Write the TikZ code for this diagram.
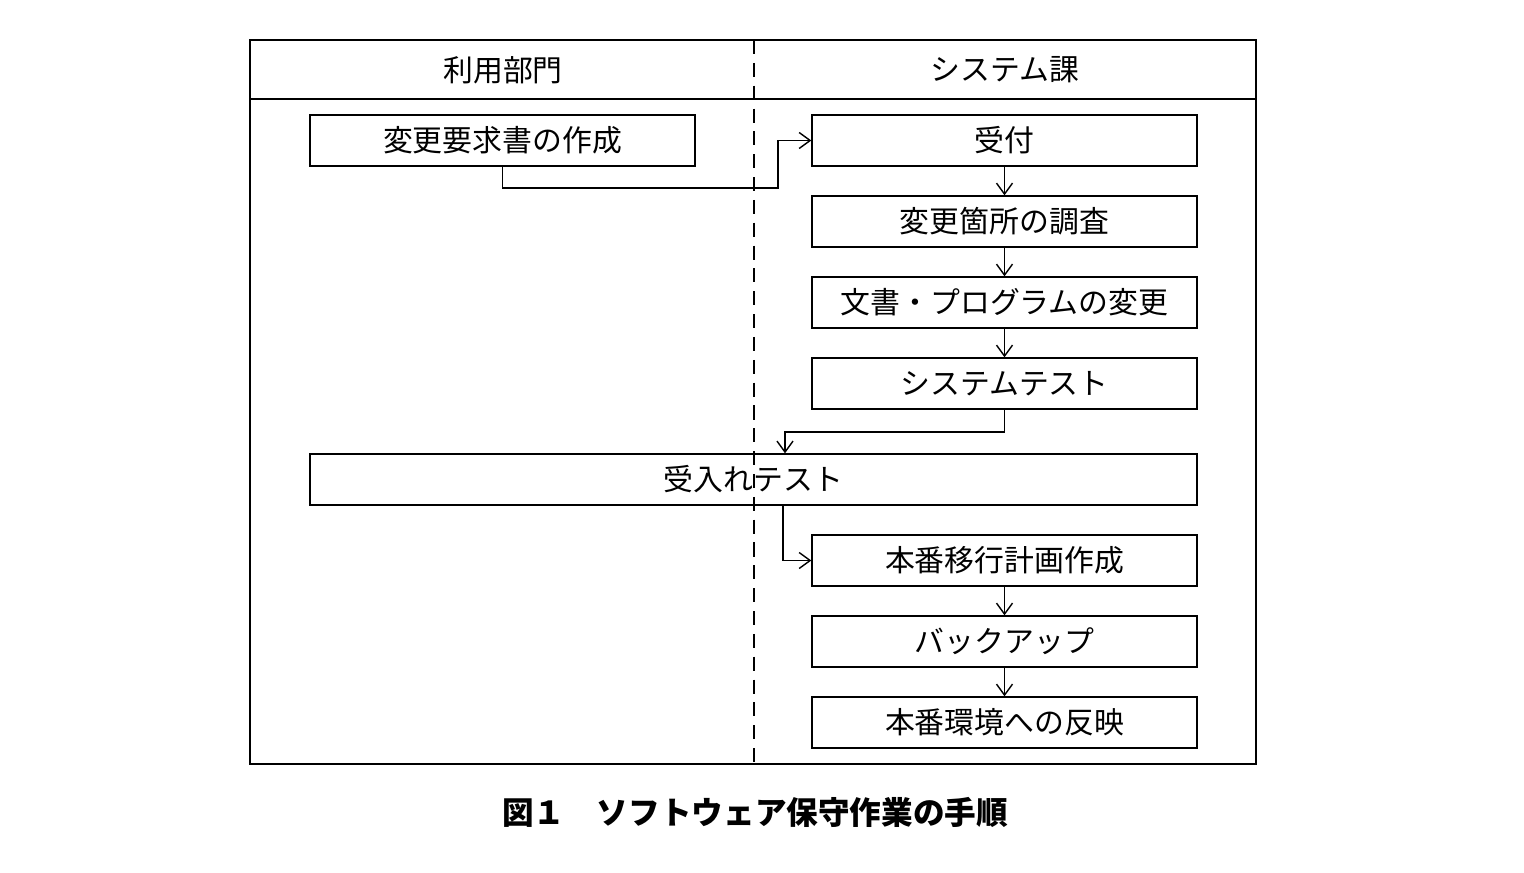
\documentclass[tikz,border=0pt]{standalone}
\usepackage{fontspec}
\setmainfont{Noto Sans CJK JP}
\usetikzlibrary{arrows.meta,positioning}
\tikzset{
  procbox/.style={draw, thick, minimum width=7.7cm, minimum height=1.02cm, inner sep=0pt, font=\fontsize{17}{20}\selectfont},
  flow/.style={thick, -{Straight Barb[length=2.2mm,width=3.2mm]}},
}
\begin{document}
\begin{tikzpicture}[x=0.02cm,y=-0.02cm]
  \useasboundingbox (0,0) rectangle (1524,872);
  % frame and lanes
  \draw[thick] (250,40) rectangle (1256,764);
  \draw[thick] (250,99) -- (1256,99);
  \draw[thick, dash pattern=on 8pt off 5pt] (754,40) -- (754,764);
  \node[font=\fontsize{17}{20}\selectfont] (userlane) at (503,70) {利用部門};
  \node[font=\fontsize{17}{20}\selectfont] (syslane) at (1005,70) {システム課};
  % steps
  \node[procbox] (req) at (502.5,140.5) {変更要求書の作成};
  \node[procbox] (rcv) at (1004.5,140.5) {受付};
  \node[procbox] (inv) at (1004.5,221.5) {変更箇所の調査};
  \node[procbox] (mod) at (1004.5,302.5) {文書・プログラムの変更};
  \node[procbox] (sys) at (1004.5,383.5) {システムテスト};
  \node[procbox, minimum width=17.74cm] (acc) at (753.5,479.5) {受入れテスト};
  \node[procbox] (plan) at (1004.5,560.5) {本番移行計画作成};
  \node[procbox] (bak) at (1004.5,641.5) {バックアップ};
  \node[procbox] (rel) at (1004.5,722.5) {本番環境への反映};
  % connectors
  \coordinate (c1) at (778,188);
  \draw[flow] (req.south) |- (c1) |- (rcv.west);
  \draw[flow] (rcv) -- (inv);
  \draw[flow] (inv) -- (mod);
  \draw[flow] (mod) -- (sys);
  \coordinate (c2) at (785,432);
  \draw[flow] (sys.south) |- (c2) -- (c2 |- acc.north);
  \coordinate (c3) at (783,505);
  \draw[flow] (c3) |- (plan.west);
  \draw[flow] (plan) -- (bak);
  \draw[flow] (bak) -- (rel);
  % caption
  \node[font=\fontsize{18}{22}\selectfont\bfseries] (cap) at (755,812) {図１　ソフトウェア保守作業の手順};
\end{tikzpicture}
\end{document}
